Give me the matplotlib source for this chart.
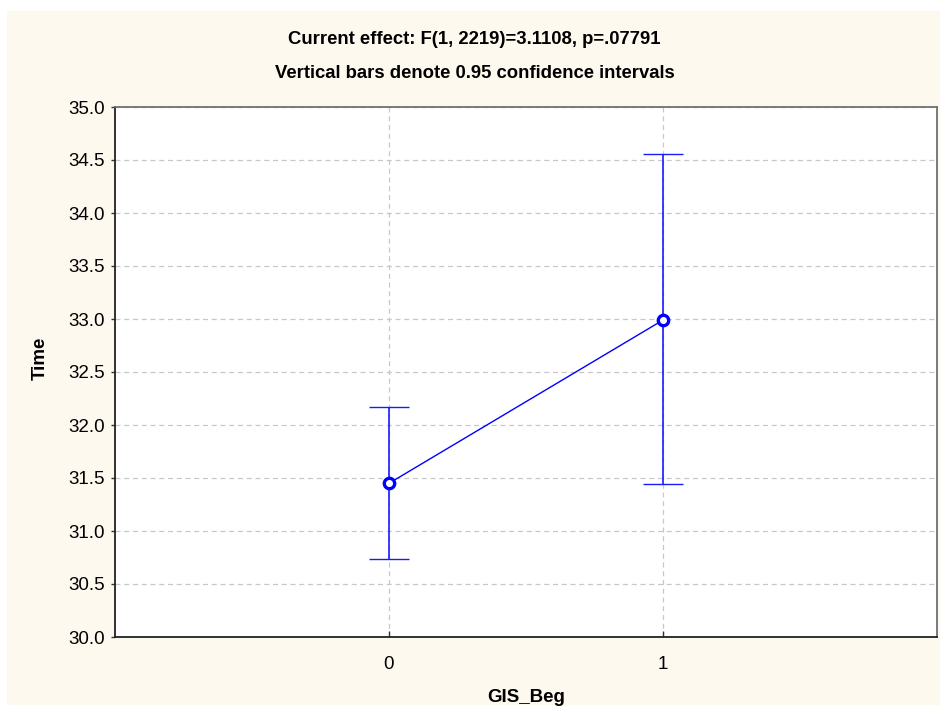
import matplotlib
matplotlib.use("Agg")
import matplotlib.pyplot as plt
from matplotlib.patches import Rectangle

# Group means of Time with 0.95 confidence limits
groups = [0, 1]
group_labels = ["0", "1"]
means = [31.45, 32.99]
ci_lower = [30.74, 31.44]
ci_upper = [32.17, 34.56]
y_ticks = [30.0, 30.5, 31.0, 31.5, 32.0, 32.5, 33.0, 33.5, 34.0, 34.5, 35.0]

plt.rcParams["font.family"] = ["Liberation Sans", "DejaVu Sans"]

fig = plt.figure(figsize=(9.49, 7.16), dpi=100, facecolor="white")
W, H = 949, 716
fig.patches.append(Rectangle((7 / W, 11 / H), 933 / W, 694 / H,
                             transform=fig.transFigure, facecolor="#fef9ef",
                             edgecolor="none", zorder=-10))

ax = fig.add_axes([115 / W, 1 - 637 / H, 822 / W, 530 / H])
ax.set_facecolor("white")

lower_err = [m - lo for m, lo in zip(means, ci_lower)]
upper_err = [hi - m for m, hi in zip(means, ci_upper)]
ax.errorbar(groups, means, yerr=[lower_err, upper_err], fmt="none",
            ecolor="#1a1aff", elinewidth=1.2, capsize=14.5, capthick=1.0,
            zorder=3)
ax.plot(groups, means, color="#0000ff", linewidth=1.0, marker="o",
        markersize=7.5, markerfacecolor="white", markeredgecolor="#0000ff",
        markeredgewidth=2.4, zorder=4)

ax.set_xlim(-1, 2)
ax.set_ylim(30, 35)
ax.set_xticks(groups)
ax.set_xticklabels(group_labels)
ax.set_yticks(y_ticks)
ax.set_yticklabels([f"{v:.1f}" for v in y_ticks])

ax.grid(True, color="#c8c8c8", linestyle=(0, (4, 3)), linewidth=0.9)
ax.set_axisbelow(True)

ax.tick_params(axis="x", direction="in", length=4, width=1, color="#333333",
               labelsize=13.5, pad=14)
ax.tick_params(axis="y", direction="out", length=3, width=1, color="#333333",
               labelsize=13.5, pad=4)

for side in ("left", "bottom"):
    ax.spines[side].set_color("#222222")
    ax.spines[side].set_linewidth(1.3)
for side in ("top", "right"):
    ax.spines[side].set_color("#707070")
    ax.spines[side].set_linewidth(1.3)

fig.text(0.5, 1 - 40 / H, "Current effect: F(1, 2219)=3.1108, p=.07791",
         ha="center", va="center", fontsize=13.3, fontweight="bold")
fig.text(0.5, 1 - 73 / H, "Vertical bars denote 0.95 confidence intervals",
         ha="center", va="center", fontsize=13.3, fontweight="bold")
fig.text(40 / W, 1 - 358 / H, "Time", rotation=90, ha="center", va="center",
         fontsize=13.5, fontweight="bold")
fig.text(526 / W, 1 - 697 / H, "GIS_Beg", ha="center", va="center",
         fontsize=13.5, fontweight="bold")

fig.savefig("out.png", dpi=100, facecolor=fig.get_facecolor())
